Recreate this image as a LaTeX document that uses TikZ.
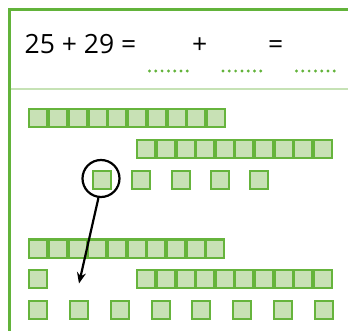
\documentclass[tikz,border=0pt]{standalone}
\usepackage{fontspec}
\setmainfont{Open Sans}
\usetikzlibrary{arrows.meta}
\definecolor{gline}{HTML}{62B33A}
\definecolor{gsep}{HTML}{C6E2B5}
\definecolor{gfill}{HTML}{C8E1B5}
\definecolor{gedge}{HTML}{66B43C}
\tikzset{
  sq/.style={draw=gedge, fill=gfill, line width=2pt, minimum size=18pt, inner sep=0pt, anchor=north west},
  frame/.style={gline, line width=3pt},
  dotrow/.style={fill=gline},
  txt/.style={font=\fontsize{26.5}{30}\selectfont, inner sep=0pt, anchor=base west}
}
\begin{document}
\begin{tikzpicture}[x=1pt,y=-1pt]
\useasboundingbox (0,0) rectangle (348,331);
% frame
\draw[frame] (9,331) -- (9,10) -- (348,10);
\draw[gsep, line width=2.5pt] (10.5,89) -- (348,89);
% equation
\node[txt] (eq1) at (24.5,54) {25 + 29 =};
\node[txt] (plus) at (192,54) {+};
\node[txt] (eq2) at (268,54) {=};
\foreach \x in {149.5,223,296.5}{
  \foreach \i in {0,...,6}{
    \fill[dotrow] (\x+\i*6.3,71) circle (1.6);
  }
}
% row 1
\foreach \i in {0,...,9}{ \node[sq] (ra\i) at (28.3+\i*19.75,108.3) {}; }
% row 2
\foreach \i in {0,...,9}{ \node[sq] (rb\i) at (136.3+\i*19.6,139.3) {}; }
% row 3
\foreach \i in {0,...,4}{ \node[sq] (rc\i) at (92+\i*39.3,170) {}; }
% circle
\node[draw=black, line width=2.2pt, circle, minimum size=37pt, inner sep=0pt] (ring) at (101,178.5) {};
% row 4
\foreach \i in {0,...,9}{ \node[sq] (rd\i) at (28.3+\i*19.65,238.5) {}; }
% row 5
\node[sq] (re) at (28.3,269.3) {};
\foreach \i in {0,...,9}{ \node[sq] (rf\i) at (136.3+\i*19.6,269.3) {}; }
% row 6
\foreach \i in {0,...,7}{ \node[sq] (rg\i) at (28.3+\i*40.75,300) {}; }
% arrow
\coordinate (tip) at (79,283.5);
\draw[line width=2.2pt, -{Stealth[length=11pt,width=9pt]}] (ring.south) ++(-2.6,0) -- (tip);
\end{tikzpicture}
\end{document}
